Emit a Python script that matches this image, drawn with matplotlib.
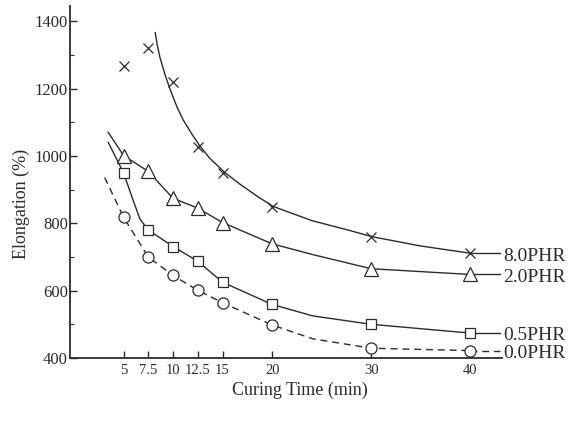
import matplotlib
matplotlib.use("Agg")
import matplotlib.pyplot as plt
from matplotlib.ticker import MultipleLocator

# ---- data ----
times = [5, 7.5, 10, 12.5, 15, 20, 30, 40]
time_labels = ["5", "7.5", "10", "12.5", "15", "20", "30", "40"]

phr80 = [1268, 1320, 1218, 1025, 948, 849, 758, 711]
phr20 = [1001, 954, 874, 845, 802, 739, 665, 648]
phr05 = [950, 780, 731, 687, 625, 559, 500, 474]
phr00 = [818, 700, 645, 601, 564, 498, 429, 422]

series_labels = ["8.0PHR", "2.0PHR", "0.5PHR", "0.0PHR"]

# hand-drawn fitted curves
curve80_t = [8.2, 8.4, 8.7, 9.2, 9.8, 10.4, 11.0, 12.0, 12.7, 13.7, 15.25, 16.8, 18.5, 20.1, 24.0, 27.9, 30.1, 34.9, 40.0]
curve80_v = [1366, 1330, 1290, 1240, 1190, 1145, 1108, 1060, 1030, 993, 950, 915, 880, 850, 808, 778, 760, 733, 711]
curve20_t = [3.46, 5, 7.5, 10, 12.5, 15, 20, 24.1, 30, 40]
curve20_v = [1070, 1001, 954, 874, 845, 802, 739, 707, 665, 648]
curve05_t = [3.46, 5, 5.96, 6.67, 7.5, 10, 12.5, 15, 20, 24.1, 30, 40]
curve05_v = [1040, 950, 869, 812, 780, 731, 687, 625, 559, 525, 500, 474]
curve00_t = [3.1, 5, 7.5, 10, 12.5, 15, 20, 24.1, 30, 40]
curve00_v = [936, 818, 700, 645, 601, 564, 498, 457, 429, 422]

yticks = [400, 600, 800, 1000, 1200, 1400]

# ---- drawing ----
INK = "#2b2b2b"
SERIF = ["Liberation Serif", "DejaVu Serif"]
plt.rcParams["font.family"] = SERIF

fig = plt.figure(figsize=(5.71, 4.26), dpi=100)
W, H = 571, 426
ax = fig.add_axes([70 / W, 1 - 358 / H, (502 - 70) / W, (358 - 6) / H])
ax.set_xlim(-0.4, 43.2)
ax.set_ylim(400, 1445)

for s in ("top", "right"):
    ax.spines[s].set_visible(False)
for s in ("left", "bottom"):
    ax.spines[s].set_linewidth(1.3)
    ax.spines[s].set_color(INK)

ax.set_xticks(times)
ax.set_xticklabels(time_labels)
ax.set_yticks(yticks)
ax.yaxis.set_minor_locator(MultipleLocator(100))
ax.tick_params(axis="x", direction="in", length=5, width=1.0, color=INK,
               labelsize=10.5, labelcolor=INK, pad=4)
ax.tick_params(axis="y", which="major", direction="in", length=5, width=1.0,
               color=INK, labelsize=12, labelcolor=INK, pad=1.5)
ax.tick_params(axis="y", which="minor", direction="in", length=3, width=0.8,
               color=INK)

curves = [(curve80_t, curve80_v, "-"), (curve20_t, curve20_v, "-"),
          (curve05_t, curve05_v, "-"), (curve00_t, curve00_v, (0, (5, 3.5)))]
points = [(phr80, "x", 7), (phr20, "^", 9.5), (phr05, "s", 7.5), (phr00, "o", 8)]

for (ct, cv, ls), (vals, mk, ms), lab in zip(curves, points, series_labels):
    ax.plot(ct, cv, color=INK, lw=1.0, ls=ls, zorder=2)
    # leader line from the last marker to the label
    ax.plot([times[-1], 43.0], [vals[-1], vals[-1]], color=INK, lw=1.0,
            ls=ls, clip_on=False, zorder=2)
    ax.plot(times, vals, ls="none", marker=mk, ms=ms, mfc="white",
            mec=INK, mew=0.9, zorder=3, clip_on=False)
    ax.annotate(lab, xy=(43.3, vals[-1]), xytext=(0, -2),
                textcoords="offset points", ha="left", va="center",
                fontsize=14, color=INK, annotation_clip=False)

fig.text(300 / W, 1 - 390 / H, "Curing Time (min)", ha="center", va="center",
         fontsize=13, color=INK)
fig.text(21 / W, 1 - 204 / H, "Elongation (%)", ha="center", va="center",
         rotation=90, fontsize=13, color=INK)

fig.savefig("out.png", dpi=100, facecolor="white")
